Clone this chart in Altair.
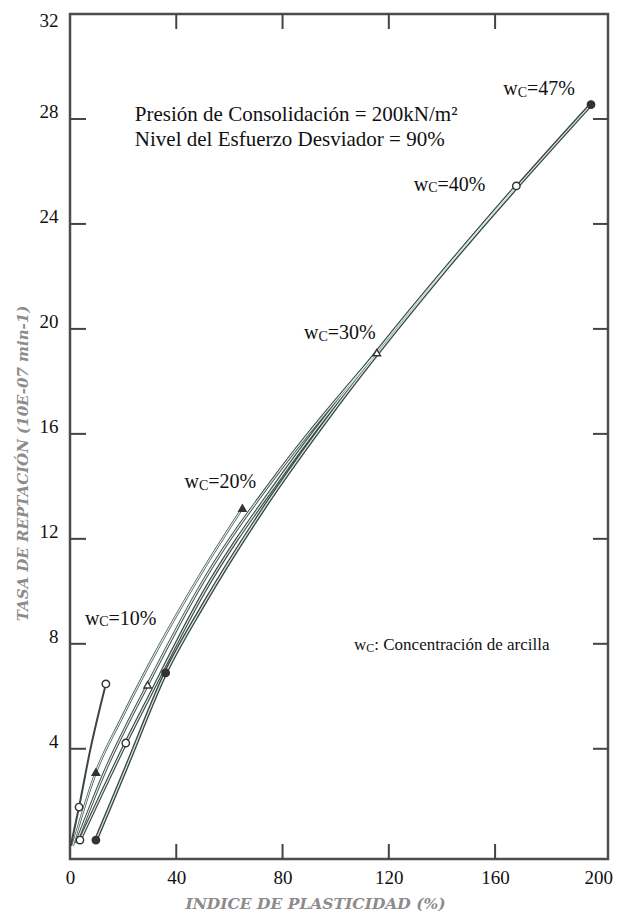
import altair as alt
import pandas as pd

# ---- data ----
series = ["10%", "20%", "30%", "40%", "47%"]

x10 = [0.3, 3.4, 7.5, 13.5]
y10 = [0.3, 1.78, 3.9, 6.47]
m10 = [0, 1, 0, 1]

x20 = [1.0, 9.75, 19.1, 29.2, 50, 64.9]
y20 = [0.3, 3.11, 5.1, 7.1, 10.8, 13.17]
m20 = [0, 1, 0, 0, 0, 1]

x30 = [2.3, 13, 29.2, 50, 80, 115.5]
y30 = [0.4, 3.11, 6.44, 10.36, 14.75, 19.1]
m30 = [0, 0, 1, 0, 0, 1]

x40 = [3.75, 21, 29.2, 50, 80, 120, 168]
y40 = [0.52, 4.22, 5.86, 9.9, 14.45, 19.7, 25.45]
m40 = [1, 1, 0, 0, 0, 0, 1]

x47 = [9.75, 21, 36, 50, 73, 100, 140, 196.1]
y47 = [0.52, 3.25, 6.89, 9.45, 13.17, 17.0, 22.1, 28.55]
m47 = [1, 0, 1, 0, 0, 0, 0, 1]

x_ticks = [0, 40, 80, 120, 160, 200]
y_ticks = [4, 8, 12, 16, 20, 24, 28, 32]
inner_x_ticks = [40, 80, 120, 160]
inner_y_ticks = [4, 8, 12, 16, 20, 24, 28]

wc_text = ["=10%", "=20%", "=30%", "=40%", "=47%"]
wc_x = [5.6, 43.1, 88.1, 129.4, 163.1]
wc_y = [8.72, 13.93, 19.6, 25.27, 28.91]

cond_text = ["Presión de Consolidación = 200kN/m²", "Nivel del Esfuerzo Desviador = 90%"]
cond_x = [24.4, 24.4]
cond_y = [27.92, 26.97]

note_text = [": Concentración de arcilla"]
note_x = [106.9]
note_y = [7.76]

# ---- build tables ----
rows = []
for name, xs, ys, ms in zip(series, [x10, x20, x30, x40, x47], [y10, y20, y30, y40, y47],
                            [m10, m20, m30, m40, m47]):
    for i, (a, b, m) in enumerate(zip(xs, ys, ms)):
        rows.append({"series": name, "x": a, "y": b, "marked": m, "order": i})
df = pd.DataFrame(rows)

W, H = 538, 845
FONT = "Liberation Serif"
DARK = "#3b4745"

xscale = alt.Scale(domain=[0, 202.5], nice=False, zero=False)
yscale = alt.Scale(domain=[-0.2, 32], nice=False, zero=False)

X = alt.X("x:Q", scale=xscale, axis=alt.Axis(
    values=x_ticks, title="INDICE DE PLASTICIDAD (%)", ticks=False, domain=False, grid=False,
    labelFont=FONT, labelFontSize=19, labelColor="#111", labelPadding=9, labelBound=False,
    labelFlush=False, labelOverlap=False,
    labelOffset={"condition": {"test": "datum.value == 200", "value": -3}, "value": 0},
    titleFont="DejaVu Serif", titleFontStyle="italic", titleFontWeight="bold", titleFontSize=15.5,
    titleColor="#8c8c8c", titleX=245, titleY=44, titleBaseline="middle", titleAlign="center"))
Y = alt.Y("y:Q", scale=yscale, axis=alt.Axis(
    values=y_ticks, title="TASA DE REPTACIÓN (10E-07 min-1)", ticks=False, domain=False, grid=False,
    labelFont=FONT, labelFontSize=19, labelColor="#111", labelPadding=12, labelFlush=False,
    labelOverlap=False,
    labelOffset={"condition": {"test": "datum.value == 32", "value": 6}, "value": -7},
    titleFont="DejaVu Serif", titleFontStyle="italic", titleFontWeight="bold", titleFontSize=15,
    titleColor="#8c8c8c", titleX=-48, titleY=449, titleBaseline="middle", titleAlign="center"))

base = alt.Chart(df)

outer = base.mark_line(interpolate="monotone", color=DARK).encode(
    x=X, y=Y, detail="series:N", order="order:Q",
    strokeWidth=alt.StrokeWidth("series:N", scale=alt.Scale(domain=series, range=[2, 3.9, 3.9, 3.9, 3.9]),
                                legend=None))
inner = base.transform_filter(alt.datum.series != "10%").mark_line(
    interpolate="monotone", color="#d9ece7", strokeWidth=1.2).encode(
    x=X, y=Y, detail="series:N", order="order:Q")

points = base.transform_filter(alt.datum.marked == 1).mark_point(
    filled=True, size=55, stroke="#333", strokeWidth=1.4, opacity=1).encode(
    x=X, y=Y,
    shape=alt.Shape("series:N", scale=alt.Scale(domain=series,
                    range=["circle", "triangle-up", "triangle-up", "circle", "circle"]), legend=None),
    fill=alt.Fill("series:N", scale=alt.Scale(domain=series,
                  range=["white", "#333", "white", "white", "#333"]), legend=None))

# inward ticks on all four sides (same fields as the main axes)
xt = pd.DataFrame({"x": inner_x_ticks})
yt = pd.DataFrame({"y": inner_y_ticks})
tick_style = dict(color="#444", strokeWidth=2)
bt = alt.Chart(xt).mark_rule(**tick_style).encode(x=X, y=alt.value(H), y2=alt.value(H - 15))
tt = alt.Chart(xt).mark_rule(**tick_style).encode(x=X, y=alt.value(0), y2=alt.value(15))
lt = alt.Chart(yt).mark_rule(**tick_style).encode(y=Y, x=alt.value(0), x2=alt.value(16))
rt = alt.Chart(yt).mark_rule(**tick_style).encode(y=Y, x=alt.value(W), x2=alt.value(W - 15))

# wC labels
wc = pd.DataFrame({"x": wc_x, "y": wc_y, "t": wc_text})
wc_w = alt.Chart(wc).mark_text(align="left", baseline="alphabetic", font=FONT, fontSize=20,
                               color="#111").encode(x=X, y=Y, text=alt.value("w"))
wc_c = alt.Chart(wc).mark_text(align="left", baseline="alphabetic", font=FONT, fontSize=14,
                               color="#111", dx=14.4, dy=1.5).encode(x=X, y=Y, text=alt.value("C"))
wc_r = alt.Chart(wc).mark_text(align="left", baseline="alphabetic", font=FONT, fontSize=20,
                               color="#111", dx=23.7).encode(x=X, y=Y, text="t:N")

cond = pd.DataFrame({"x": cond_x, "y": cond_y, "t": cond_text})
cond_t = alt.Chart(cond).mark_text(align="left", baseline="alphabetic", font=FONT, fontSize=21,
                                   color="#111").encode(x=X, y=Y, text="t:N")

note = pd.DataFrame({"x": note_x, "y": note_y, "t": note_text})
note_w = alt.Chart(note).mark_text(align="left", baseline="alphabetic", font=FONT, fontSize=17,
                                   color="#111").encode(x=X, y=Y, text=alt.value("w"))
note_c = alt.Chart(note).mark_text(align="left", baseline="alphabetic", font=FONT, fontSize=12,
                                   color="#111", dx=12.3, dy=1.5).encode(x=X, y=Y, text=alt.value("C"))
note_r = alt.Chart(note).mark_text(align="left", baseline="alphabetic", font=FONT, fontSize=17,
                                   color="#111", dx=20.3).encode(x=X, y=Y, text="t:N")

chart = alt.layer(outer, inner, points, bt, tt, lt, rt, wc_w, wc_c, wc_r, cond_t,
                  note_w, note_c, note_r).properties(
    width=W, height=H,
    autosize=alt.AutoSizeParams(type="none"),
    padding={"left": 62, "top": 6, "right": 5, "bottom": 54},
    background="white",
).configure_view(stroke="#4d4d4d", strokeWidth=2.5).configure_axis(labelFont=FONT)

chart.save("out.html", embed_options={"renderer": "svg", "actions": False})
